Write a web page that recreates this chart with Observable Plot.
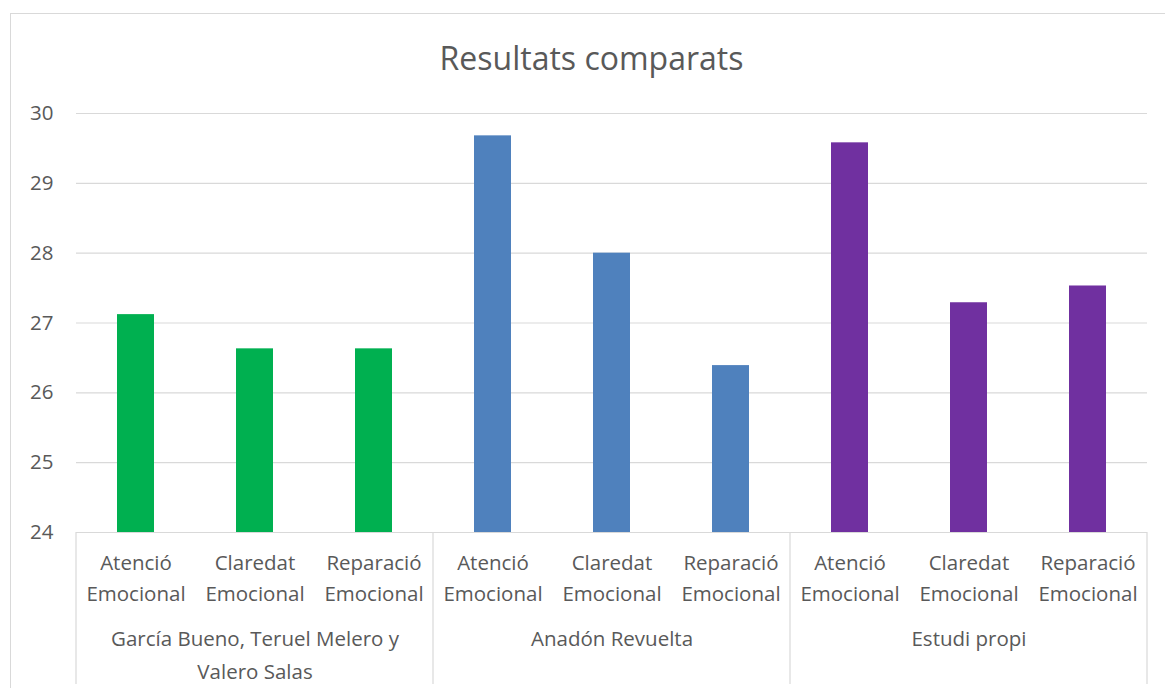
<!DOCTYPE html>
<html>
<head>
<meta charset="utf-8">
<script src="https://cdn.jsdelivr.net/npm/d3@7"></script>
<script src="https://cdn.jsdelivr.net/npm/@observablehq/plot@0.6"></script>
<style>
  html, body { margin: 0; padding: 0; background: #fff; overflow: hidden; }
  #wrap { position: relative; width: 1165px; height: 688px; font-family: "Open Sans", sans-serif; color: #595959; }
  #frame { position: absolute; left: 10px; top: 13px; width: 1200px; height: 700px;
           border-left: 1px solid #d9d9d9; border-top: 1px solid #d9d9d9; pointer-events: none; }
  #title { height: 90px; box-sizing: border-box; padding-top: 42px; padding-left: 18px;
           font-size: 32px; line-height: 32px; text-align: center; color: #595959; }
  #chart svg { display: block; }
</style>
</head>
<body>
<div id="wrap">
  <div id="frame"></div>
  <div id="title">Resultats comparats</div>
  <div id="chart"></div>
</div>
<script>
// Study groups (outer axis) and the three emotional-intelligence scales (inner axis)
const groups = ["García Bueno, Teruel Melero y Valero Salas", "Anadón Revuelta", "Estudi propi"];
const groupLabels = ["García Bueno, Teruel Melero y\nValero Salas", "Anadón Revuelta", "Estudi propi"];
const categories = ["Atenció Emocional", "Claredat Emocional", "Reparació Emocional"];
const categoryLabels = ["Atenció\nEmocional", "Claredat\nEmocional", "Reparació\nEmocional"];

// Mean scores per study
const garciaValues = [27.12, 26.63, 26.63];
const anadonValues = [29.68, 28.0, 26.39];
const propiValues = [29.58, 27.29, 27.53];

const yTicks = [24, 25, 26, 27, 28, 29, 30];
const groupColors = ["#00B050", "#4F81BD", "#7030A0"];

const seriesValues = [garciaValues, anadonValues, propiValues];
const data = groups.flatMap((g, i) =>
  categories.map((c, j) => ({group: g, category: c, value: seriesValues[i][j]}))
);

const W = 1165, H = 598;
const mL = 75, mR = 18, mT = 23, mB = 156;
const gray = "#d9d9d9";

const chart = Plot.plot({
  width: W,
  height: H,
  marginLeft: mL,
  marginRight: mR,
  marginTop: mT,
  marginBottom: mB,
  style: {fontFamily: "'Open Sans', sans-serif", fontSize: "20px", color: "#595959", background: "transparent"},
  fx: {domain: groups, padding: 0, label: null, axis: null},
  x: {domain: categories, paddingInner: 0.69, paddingOuter: 0.345, label: null, axis: null},
  y: {domain: [24, 30], label: null, axis: null},
  color: {domain: groups, range: groupColors},
  marks: [
    Plot.ruleY(yTicks, {stroke: gray, strokeWidth: 1.2}),
    Plot.barY(data, {fx: "group", x: "category", y1: 24, y2: "value", fill: "group"}),
    Plot.axisY({ticks: yTicks, tickSize: 0, tickPadding: 23, fontSize: 20.5, tickFormat: d => String(d)}),
    Plot.axisX({
      tickSize: 0, tickPadding: 16.5, fontSize: 20.5, lineHeight: 1.47,
      tickFormat: d => categoryLabels[categories.indexOf(d)]
    }),
    Plot.axisFx({
      anchor: "bottom", tickSize: 0, tickPadding: 91, fontSize: 20.5, lineHeight: 1.58,
      tickFormat: d => groupLabels[groups.indexOf(d)]
    })
  ]
});

// Vertical separators between the study groups, below the plot area
const fx = chart.scale("fx");
const bounds = [...groups.map(g => fx.apply(g)), fx.apply(groups[groups.length - 1]) + fx.bandwidth];
d3.select(chart).append("g")
  .attr("stroke", gray)
  .attr("stroke-width", 1.2)
  .selectAll("line")
  .data(bounds)
  .join("line")
  .attr("x1", d => d).attr("x2", d => d)
  .attr("y1", H - mB).attr("y2", H - 4);

document.getElementById("chart").append(chart);
</script>
</body>
</html>
